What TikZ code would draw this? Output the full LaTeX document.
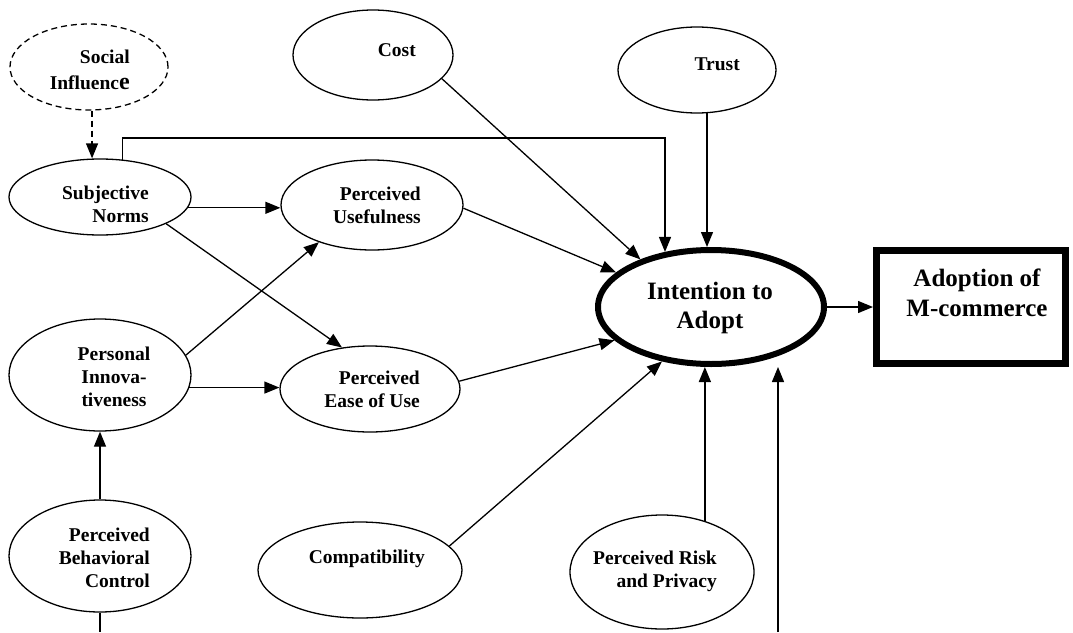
\documentclass[tikz,border=0pt]{standalone}
\usepackage{fontspec}
\setmainfont{Liberation Serif}
\usetikzlibrary{shapes.geometric,arrows.meta,calc}
\tikzset{
  ell/.style={ellipse, draw, line width=1.3pt, inner sep=0pt},
  lbl/.style={font=\bfseries\fontsize{19.5}{23}\selectfont, inner sep=0pt},
  big/.style={font=\bfseries\fontsize{25}{29}\selectfont, inner sep=0pt},
  arr/.style={line width=1.3pt, -{Triangle[length=15pt,width=12pt]}},
  dsh/.style={dash pattern=on 6pt off 4pt},
}
\begin{document}
\begin{tikzpicture}[x=1pt,y=-1pt]
\useasboundingbox (0,0) rectangle (1073,632);
% ellipses
\node[ell, dsh, minimum width=158, minimum height=86] (si) at (89,67) {};
\node[ell, minimum width=182, minimum height=76] (sn) at (100,197) {};
\node[ell, minimum width=182, minimum height=90] (pu) at (372,205) {};
\node[ell, minimum width=180, minimum height=86] (peou) at (370,389) {};
\node[ell, minimum width=182, minimum height=112] (pi) at (100,375) {};
\node[ell, minimum width=182, minimum height=112] (pbc) at (100,556) {};
\node[ell, minimum width=160, minimum height=90] (cost) at (373,55) {};
\node[ell, minimum width=158, minimum height=86] (trust) at (697,70) {};
\node[ell, minimum width=204, minimum height=96] (comp) at (360,570) {};
\node[ell, minimum width=184, minimum height=114] (pr) at (662,572) {};
\node[ellipse, draw, line width=6pt, inner sep=0pt, minimum width=226, minimum height=114] (int) at (711,307) {};
\node[draw, rectangle, line width=7pt, inner sep=0pt, minimum width=189, minimum height=113] (box) at (971,307) {};
% labels (base anchor = baseline of last line)
\node[lbl, align=right, anchor=base east] (tsi) at (130,89) {Social\\[3pt]Influenc{\fontsize{24}{23}\selectfont e}};
\node[lbl, align=right, anchor=base east] (tsn) at (149,222) {Subjective\\Norms};
\node[lbl, align=right, anchor=base east] (tpu) at (421,223) {Perceived\\Usefulness};
\node[lbl, align=right, anchor=base east] (tpeou) at (420,407) {Perceived\\Ease of Use};
\node[lbl, align=center, anchor=base] (tpi) at (114,406) {Personal\\Innova-\\tiveness};
\node[lbl, align=right, anchor=base east] (tpbc) at (150,587) {Perceived\\Behavioral\\Control};
\node[lbl, anchor=base east] (tcost) at (416,56) {Cost};
\node[lbl, anchor=base east] (ttrust) at (740,70) {Trust};
\node[lbl, anchor=base east] (tcomp) at (425,563) {Compatibility};
\node[lbl, align=right, anchor=base east] (tpr) at (717,587) {Perceived Risk\\and Privacy};
\node[big, align=center, anchor=base] (tint) at (710,328) {Intention to\\Adopt};
\node[big, align=center, anchor=base, font=\bfseries\fontsize{25}{30}\selectfont] (tbox) at (977,316) {Adoption of\\M-commerce};
% helper coordinates
\coordinate (rt) at (665,138);
\coordinate (bl) at (100,632);
\coordinate (br) at (778,632);
% connectors
\draw[arr, dsh] (si.-86) -- (si.-86 |- sn.north);
\draw[arr] (sn.59) |- (rt) -- (rt |- int.130);
\draw[arr] (sn.-7) -- (pu.west |- sn.-7);
\draw[arr] (sn.-22) -- (peou.124);
\draw[arr] (pi.13) -- (pu.-145);
\draw[arr] (pi.-8) -- (peou.west |- pi.-8);
\draw[arr] (pbc.north) -- (pi.south);
\draw[line width=1.3pt] (pbc.south) -- (bl);
\draw[arr] (cost.-19) -- (int.146);
\draw[arr] (trust.-77) -- (trust.-77 |- int.north);
\draw[arr] (pu.-2) -- (int.160);
\draw[arr] (peou.5) -- (int.-161);
\draw[arr] (comp.15) -- (int.-132);
\draw[arr] (pr.50) -- (pr.50 |- int.south);
\draw[arr] (br) -- (br |- int.south);
\draw[arr] (int.east) -- (box.west);
\end{tikzpicture}
\end{document}
